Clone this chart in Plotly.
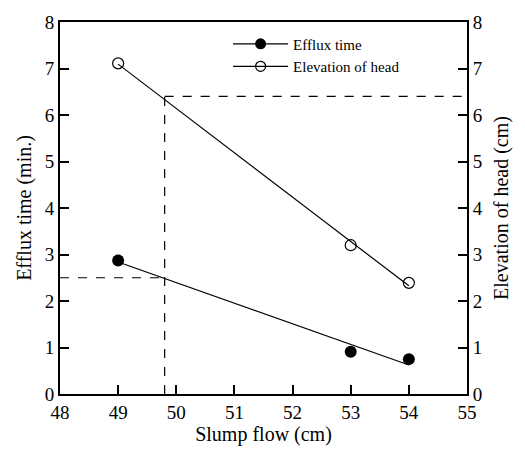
import numpy as np
import plotly.graph_objects as go

# Data
slump_flow = [49, 53, 54]
efflux_time = [2.87, 0.91, 0.75]
elevation_head = [7.11, 3.20, 2.39]

# Reference (dashed) read-off values
ref_slump = 49.8
ref_efflux = 2.5
ref_head = 6.4

x_ticks = [48, 49, 50, 51, 52, 53, 54, 55]
y_ticks = [0, 1, 2, 3, 4, 5, 6, 7, 8]

FONT = "Liberation Serif"

# Linear fits
xs = np.array([min(slump_flow), max(slump_flow)], dtype=float)
p1 = np.polyfit(slump_flow, efflux_time, 1)
p2 = np.polyfit(slump_flow, elevation_head, 1)

fig = go.Figure()

fig.add_trace(go.Scatter(x=xs, y=np.polyval(p1, xs), mode="lines",
                         line=dict(color="black", width=1.2), showlegend=False))
fig.add_trace(go.Scatter(x=xs, y=np.polyval(p2, xs), mode="lines", yaxis="y2",
                         line=dict(color="black", width=1.2), showlegend=False))
fig.add_trace(go.Scatter(x=slump_flow, y=efflux_time, mode="markers",
                         marker=dict(symbol="circle", size=12, color="black"),
                         showlegend=False))
fig.add_trace(go.Scatter(x=slump_flow, y=elevation_head, mode="markers", yaxis="y2",
                         marker=dict(symbol="circle-open", size=11, color="black",
                                     line=dict(width=1.2)),
                         showlegend=False))

# Legend entries
fig.add_trace(go.Scatter(x=[None], y=[None], mode="lines+markers", name="Efflux time",
                         line=dict(color="black", width=1.2),
                         marker=dict(symbol="circle", size=11, color="black")))
fig.add_trace(go.Scatter(x=[None], y=[None], mode="lines+markers", name="Elevation of head",
                         line=dict(color="black", width=1.2),
                         marker=dict(symbol="circle-open", size=10, color="black",
                                     line=dict(width=1.2))))

# Dashed guide lines
dash = dict(color="black", width=1.2, dash="dash")
fig.add_shape(type="line", xref="x", yref="y", x0=x_ticks[0], x1=ref_slump,
              y0=ref_efflux, y1=ref_efflux, line=dash)
fig.add_shape(type="line", xref="x", yref="y", x0=ref_slump, x1=ref_slump,
              y0=0, y1=ref_head, line=dash)
fig.add_shape(type="line", xref="x", yref="y2", x0=ref_slump, x1=x_ticks[-1],
              y0=ref_head, y1=ref_head, line=dash)

def axis_style():
    return dict(showgrid=False, zeroline=False, showline=True, linecolor="black",
                linewidth=2, ticks="inside", ticklen=9, tickwidth=1.5,
                tickcolor="black", tickfont=dict(family=FONT, size=19, color="black"))

fig.update_layout(
    width=525, height=453,
    margin=dict(l=60, r=58, t=12, b=56),
    paper_bgcolor="white", plot_bgcolor="white",
    xaxis=dict(range=[x_ticks[0], x_ticks[-1]], tickvals=x_ticks, mirror=True,
               title=dict(text="Slump flow (cm)", font=dict(family=FONT, size=20, color="black"), standoff=4),
               **axis_style()),
    yaxis=dict(range=[y_ticks[0], y_ticks[-1]], tickvals=y_ticks,
               title=dict(text="Efflux time (min.)", font=dict(family=FONT, size=20, color="black"), standoff=8),
               **axis_style()),
    yaxis2=dict(range=[y_ticks[0], y_ticks[-1]], tickvals=y_ticks, overlaying="y", side="right",
                title=dict(text="Elevation of head (cm)", font=dict(family=FONT, size=20, color="black"), standoff=12),
                **axis_style()),
    legend=dict(x=0.413, y=0.985, xanchor="left", yanchor="top",
                bgcolor="rgba(0,0,0,0)", font=dict(family=FONT, size=15, color="black"),
                tracegroupgap=0, itemwidth=55),
)

fig.write_html("out.html")
